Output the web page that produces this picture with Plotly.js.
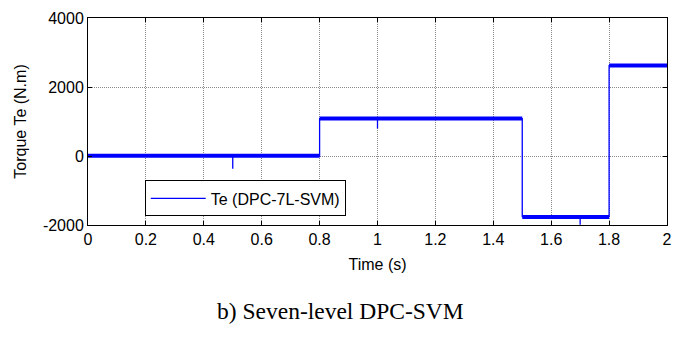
<!DOCTYPE html>
<html>
<head>
<meta charset="utf-8">
<script src="https://cdn.plot.ly/plotly-3.0.1.min.js"></script>
<style>html,body{margin:0;padding:0;background:#fff;}#chart{width:687px;height:338px;}</style>
</head>
<body>
<div id="chart"></div>
<script>
// Time (s) and torque (N.m) of the step signal, including short transient spikes
const timeS = [0, 0.5, 0.5, 0.5, 0.8, 0.8, 1.0, 1.0, 1.0, 1.5, 1.5, 1.7, 1.7, 1.7, 1.8, 1.8, 2.0];
const torqueNm = [0, 0, -370, 0, 0, 1080, 1080, 800, 1080, 1080, -1760, -1760, -1990, -1760, -1760, 2620, 2620];
// Ripple band of each plateau (start, end, level)
const bandStart = [0, 0.8, 1.5, 1.8];
const bandEnd = [0.8, 1.5, 1.8, 2.0];
const bandLevel = [10, 1090, -1765, 2620];
const seriesName = 'Te (DPC-7L-SVM)';
const xTicks = [0, 0.2, 0.4, 0.6, 0.8, 1, 1.2, 1.4, 1.6, 1.8, 2];
const yTicks = [-2000, 0, 2000, 4000];

const bx = [], by = [];
for (let i = 0; i < bandStart.length; i++) {
  bx.push(bandStart[i], bandEnd[i], null);
  by.push(bandLevel[i], bandLevel[i], null);
}

const traces = [
  {x: bx, y: by, mode: 'lines', line: {color: '#0000ff', width: 4}, showlegend: false, hoverinfo: 'skip'},
  {x: timeS, y: torqueNm, mode: 'lines', name: seriesName, line: {color: '#0000ff', width: 1.3}}
];

const sans = 'Liberation Sans, Arial, sans-serif';
const axisCommon = {
  showline: true, linecolor: '#000', linewidth: 1, mirror: 'ticks',
  ticks: 'inside', ticklen: 4, tickcolor: '#000',
  showgrid: true, gridcolor: '#8a8a8a', griddash: '1px,1px', gridwidth: 1,
  zeroline: false,
  tickfont: {family: sans, size: 16, color: '#000'}
};

const layout = {
  width: 687, height: 338,
  margin: {l: 88, r: 20, t: 18, b: 113},
  paper_bgcolor: '#fff', plot_bgcolor: '#fff',
  font: {family: sans},
  xaxis: Object.assign({}, axisCommon, {
    range: [0, 2], tickvals: xTicks, ticktext: xTicks.map(String),
    automargin: false,
    title: {text: 'Time (s)', font: {family: sans, size: 16, color: '#000'}, standoff: 11}
  }),
  yaxis: Object.assign({}, axisCommon, {
    range: [-2000, 4000], tickvals: yTicks, ticktext: yTicks.map(String),
    automargin: false,
    title: {text: 'Torque Te (N.m)', font: {family: sans, size: 16, color: '#000'}, standoff: 12}
  }),
  showlegend: true,
  legend: {
    x: 0.098, y: 0.215, xanchor: 'left', yanchor: 'top',
    bgcolor: '#fff', bordercolor: '#000', borderwidth: 1,
    itemwidth: 55, entrywidth: 150,
    font: {family: sans, size: 16, color: '#000'}
  },
  annotations: [{
    text: 'b) Seven-level DPC-SVM', xref: 'paper', yref: 'paper',
    x: (340 - 88) / 579, y: (225 - 311) / 207, xanchor: 'center', yanchor: 'middle', showarrow: false,
    font: {family: 'Liberation Serif, Times New Roman, serif', size: 23.5, color: '#000'}
  }]
};

Plotly.newPlot('chart', traces, layout, {displayModeBar: false, staticPlot: true});
</script>
</body>
</html>
